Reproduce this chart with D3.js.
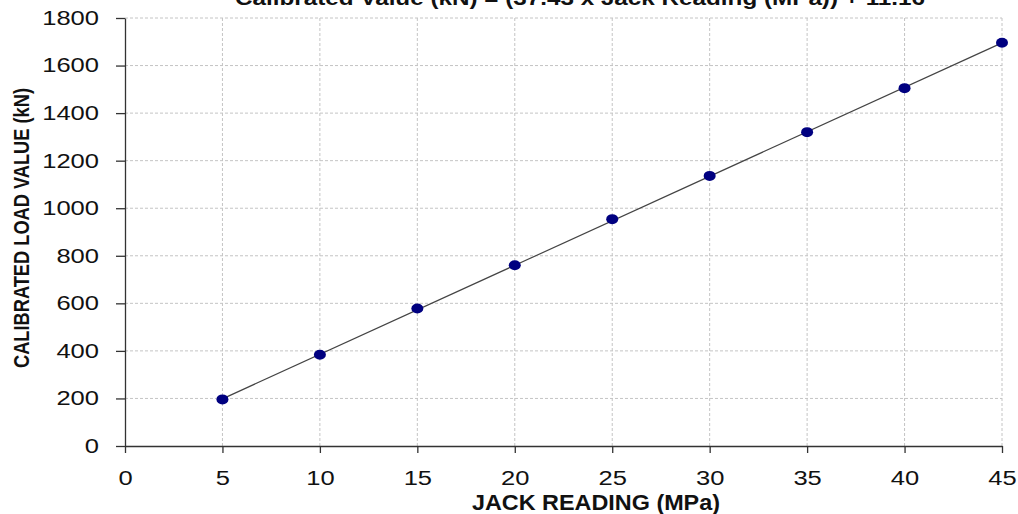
<!DOCTYPE html>
<html><head><meta charset="utf-8">
<script src="https://cdn.jsdelivr.net/npm/d3@7"></script>
<style>body{margin:0;background:#fff}svg{display:block}</style>
</head><body>
<svg id="c" width="1018" height="514"></svg>
<script>
const jackReading = [5, 10, 15, 20, 25, 30, 35, 40, 45];
const loadValue = [196, 384, 578, 760, 954, 1136, 1320, 1505, 1696];
const xTicks = [0, 5, 10, 15, 20, 25, 30, 35, 40, 45];
const yTicks = [0, 200, 400, 600, 800, 1000, 1200, 1400, 1600, 1800];
const slope = 37.43, intercept = 11.16;
const titleText = "Calibrated Value (kN) = (37.43 x Jack Reading (MPa)) + 11.16";

const svg = d3.select("#c");
const x = d3.scaleLinear().domain([0, 45]).range([125, 1002]);
const y = d3.scaleLinear().domain([0, 1800]).range([446, 18]);

const grid = svg.append("g").attr("stroke", "#c4c4c4").attr("stroke-dasharray", "3,2").attr("stroke-width", 1);
xTicks.slice(1).forEach(t => grid.append("line").attr("x1", x(t)).attr("x2", x(t)).attr("y1", y(0)).attr("y2", y(1800)));
yTicks.slice(1).forEach(t => grid.append("line").attr("x1", x(0)).attr("x2", x(45)).attr("y1", y(t)).attr("y2", y(t)));

const font = "Liberation Sans, Arial, sans-serif";
const fmt = d3.format("d");
const xa = svg.append("g").attr("transform", `translate(0,${y(0)})`)
  .call(d3.axisBottom(x).tickValues(xTicks).tickFormat(fmt).tickSize(7).tickPadding(18).tickSizeOuter(0));
const ya = svg.append("g").attr("transform", `translate(${x(0)},0)`)
  .call(d3.axisLeft(y).tickValues(yTicks).tickFormat(fmt).tickSize(9).tickPadding(17).tickSizeOuter(0));
[xa, ya].forEach(a => {
  a.selectAll("path,line").attr("stroke", "#333").attr("stroke-width", 1.3);
  a.selectAll("text").attr("font-family", font).attr("font-size", 20).attr("fill", "#111")
    .attr("textLength", d => fmt(d).length * 14.2).attr("lengthAdjust", "spacingAndGlyphs");
});

svg.append("line").attr("x1", x(jackReading[0])).attr("y1", y(slope*jackReading[0]+intercept))
  .attr("x2", x(jackReading[8])).attr("y2", y(slope*jackReading[8]+intercept))
  .attr("stroke", "#444").attr("stroke-width", 1.2);

svg.append("g").selectAll("ellipse").data(jackReading).join("ellipse")
  .attr("cx", d => x(d)).attr("cy", (d, i) => y(loadValue[i]))
  .attr("rx", 6).attr("ry", 5).attr("fill", "#000080");

svg.append("text").attr("x", 580).attr("y", 5).attr("text-anchor", "middle")
  .attr("font-family", font).attr("font-weight", "bold").attr("font-size", 21).attr("fill", "#111")
  .attr("textLength", 690).attr("lengthAdjust", "spacingAndGlyphs").text(titleText);

svg.append("text").attr("x", 596).attr("y", 510).attr("text-anchor", "middle")
  .attr("font-family", font).attr("font-weight", "bold").attr("font-size", 22).attr("fill", "#111")
  .attr("textLength", 248).attr("lengthAdjust", "spacingAndGlyphs").text("JACK READING (MPa)");

svg.append("text").attr("transform", "translate(29,228) rotate(-90)").attr("text-anchor", "middle")
  .attr("font-family", font).attr("font-weight", "bold").attr("font-size", 22).attr("fill", "#111")
  .attr("textLength", 280).attr("lengthAdjust", "spacingAndGlyphs").text("CALIBRATED LOAD VALUE  (kN)");
</script>
</body></html>
